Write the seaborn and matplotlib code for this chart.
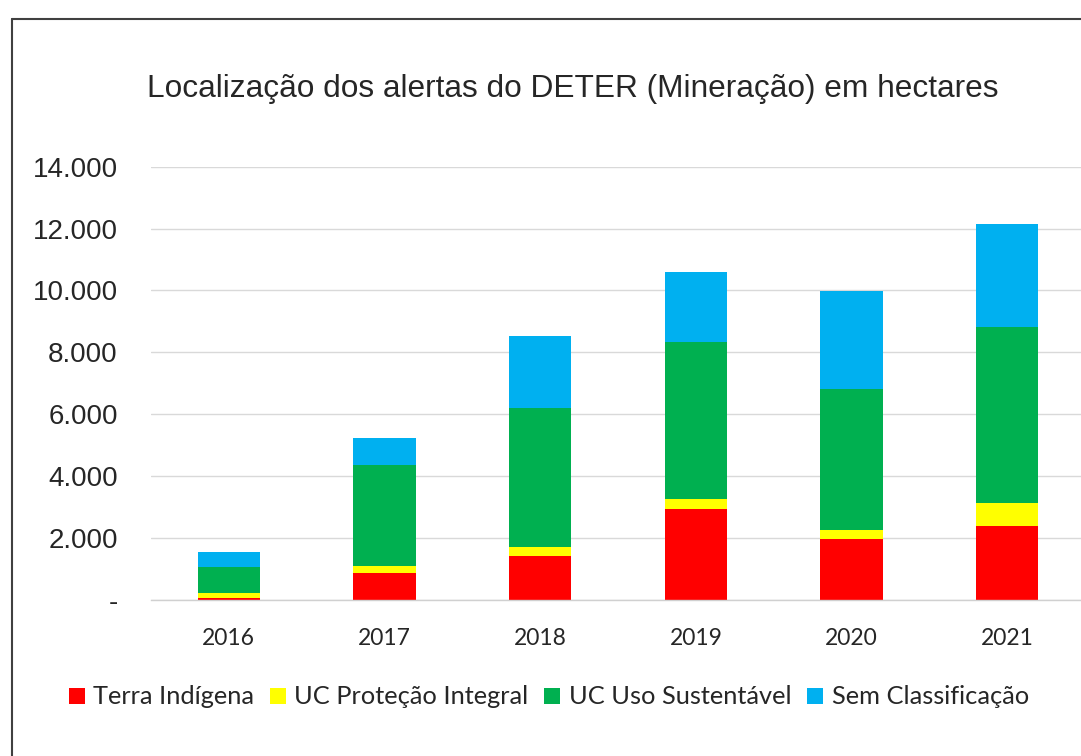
import numpy as np
import pandas as pd
import seaborn as sns
import matplotlib.pyplot as plt
from matplotlib.lines import Line2D
from matplotlib.ticker import FuncFormatter, FixedLocator


YEARS = ["2016", "2017", "2018", "2019", "2020", "2021"]
TERRA_INDIGENA = [55, 860, 1430, 2940, 1960, 2390]
UC_PROTECAO = [180, 240, 290, 320, 300, 735]
UC_USO = [820, 3260, 4470, 5080, 4555, 5705]
SEM_CLASSIFICACAO = [485, 875, 2345, 2250, 3175, 3315]

SERIES_NAMES = ["Terra Indígena", "UC Proteção Integral", "UC Uso Sustentável", "Sem Classificação"]
SERIES_COLORS = ["#ff0000", "#ffff00", "#00b050", "#00b0f0"]
TITLE = "Localização dos alertas do DETER (Mineração) em hectares"

W, H = 1081, 756


def fmt_thousands(v, _pos):
    if v == 0:
        return "-"
    return f"{int(v):,}".replace(",", ".")


def main() -> None:
    sns.set_theme(style="white")
    plt.rcParams["font.family"] = ["Liberation Sans", "DejaVu Sans"]

    df = pd.DataFrame({
        "year": YEARS,
        SERIES_NAMES[0]: TERRA_INDIGENA,
        SERIES_NAMES[1]: UC_PROTECAO,
        SERIES_NAMES[2]: UC_USO,
        SERIES_NAMES[3]: SEM_CLASSIFICACAO,
    })
    cum = df[SERIES_NAMES].cumsum(axis=1)

    fig = plt.figure(figsize=(W / 100, H / 100), dpi=100)
    ax = fig.add_axes([151 / W, 1 - 600 / H, 934 / W, (600 - 166.6) / H])

    # stacked bars: draw cumulative totals from the top layer down
    for name, color in reversed(list(zip(SERIES_NAMES, SERIES_COLORS))):
        sns.barplot(x=df["year"], y=cum[name], color=color, width=0.4,
                    saturation=1, linewidth=0, ax=ax)

    ax.set_ylim(0, 14000)
    ax.set_xlim(-0.5, 5.5)
    ax.set_yticks(np.arange(0, 14001, 2000))
    ax.yaxis.set_major_formatter(FuncFormatter(fmt_thousands))
    ax.yaxis.grid(True, color="#d9d9d9", linewidth=1)
    ax.set_axisbelow(True)
    for side in ["top", "right", "left"]:
        ax.spines[side].set_visible(False)
    ax.spines["bottom"].set_color("#d0d0d0")
    ax.spines["bottom"].set_linewidth(1)

    ax.set_xlabel("")
    ax.set_ylabel("")
    ax.tick_params(axis="y", length=0, pad=24, labelsize=20, labelcolor="#262626")
    ax.xaxis.set_minor_locator(FixedLocator(np.arange(-0.5, 6, 1)))
    ax.tick_params(axis="x", which="major", length=0, pad=20)
    ax.tick_params(axis="x", which="minor", length=4.5, color="#d0d0d0", width=1)
    for lbl in ax.get_xticklabels():
        lbl.set_fontfamily(["Lato", "DejaVu Sans"])
        lbl.set_fontsize(16.5)
        lbl.set_color("#262626")

    fig.text(573 / W, 1 - 97 / H, TITLE, ha="center", va="baseline",
             fontsize=22.8, color="#262626")

    handles = [
        Line2D([0], [0], marker="s", linestyle="", markersize=11,
               markerfacecolor=c, markeredgewidth=0, label=n)
        for n, c in zip(SERIES_NAMES, SERIES_COLORS)
    ]
    fig.legend(handles=handles, loc="center", bbox_to_anchor=(549 / W, 1 - 697 / H),
               ncol=4, frameon=False, handlelength=0.6, handletextpad=0.35,
               columnspacing=0.63, borderaxespad=0, borderpad=0,
               prop={"family": ["Lato", "DejaVu Sans"], "size": 18.3},
               labelcolor="#262626")

    # outer frame of the chart (only top and left edges are visible)
    fig.add_artist(Line2D([12 / W, 12 / W], [0, 1 - 19 / H], color="#404040", linewidth=1.5))
    fig.add_artist(Line2D([12 / W, 1], [1 - 19 / H, 1 - 19 / H], color="#404040", linewidth=1.5))

    fig.savefig("out.png", dpi=100)
    plt.close(fig)


if __name__ == "__main__":
    main()
